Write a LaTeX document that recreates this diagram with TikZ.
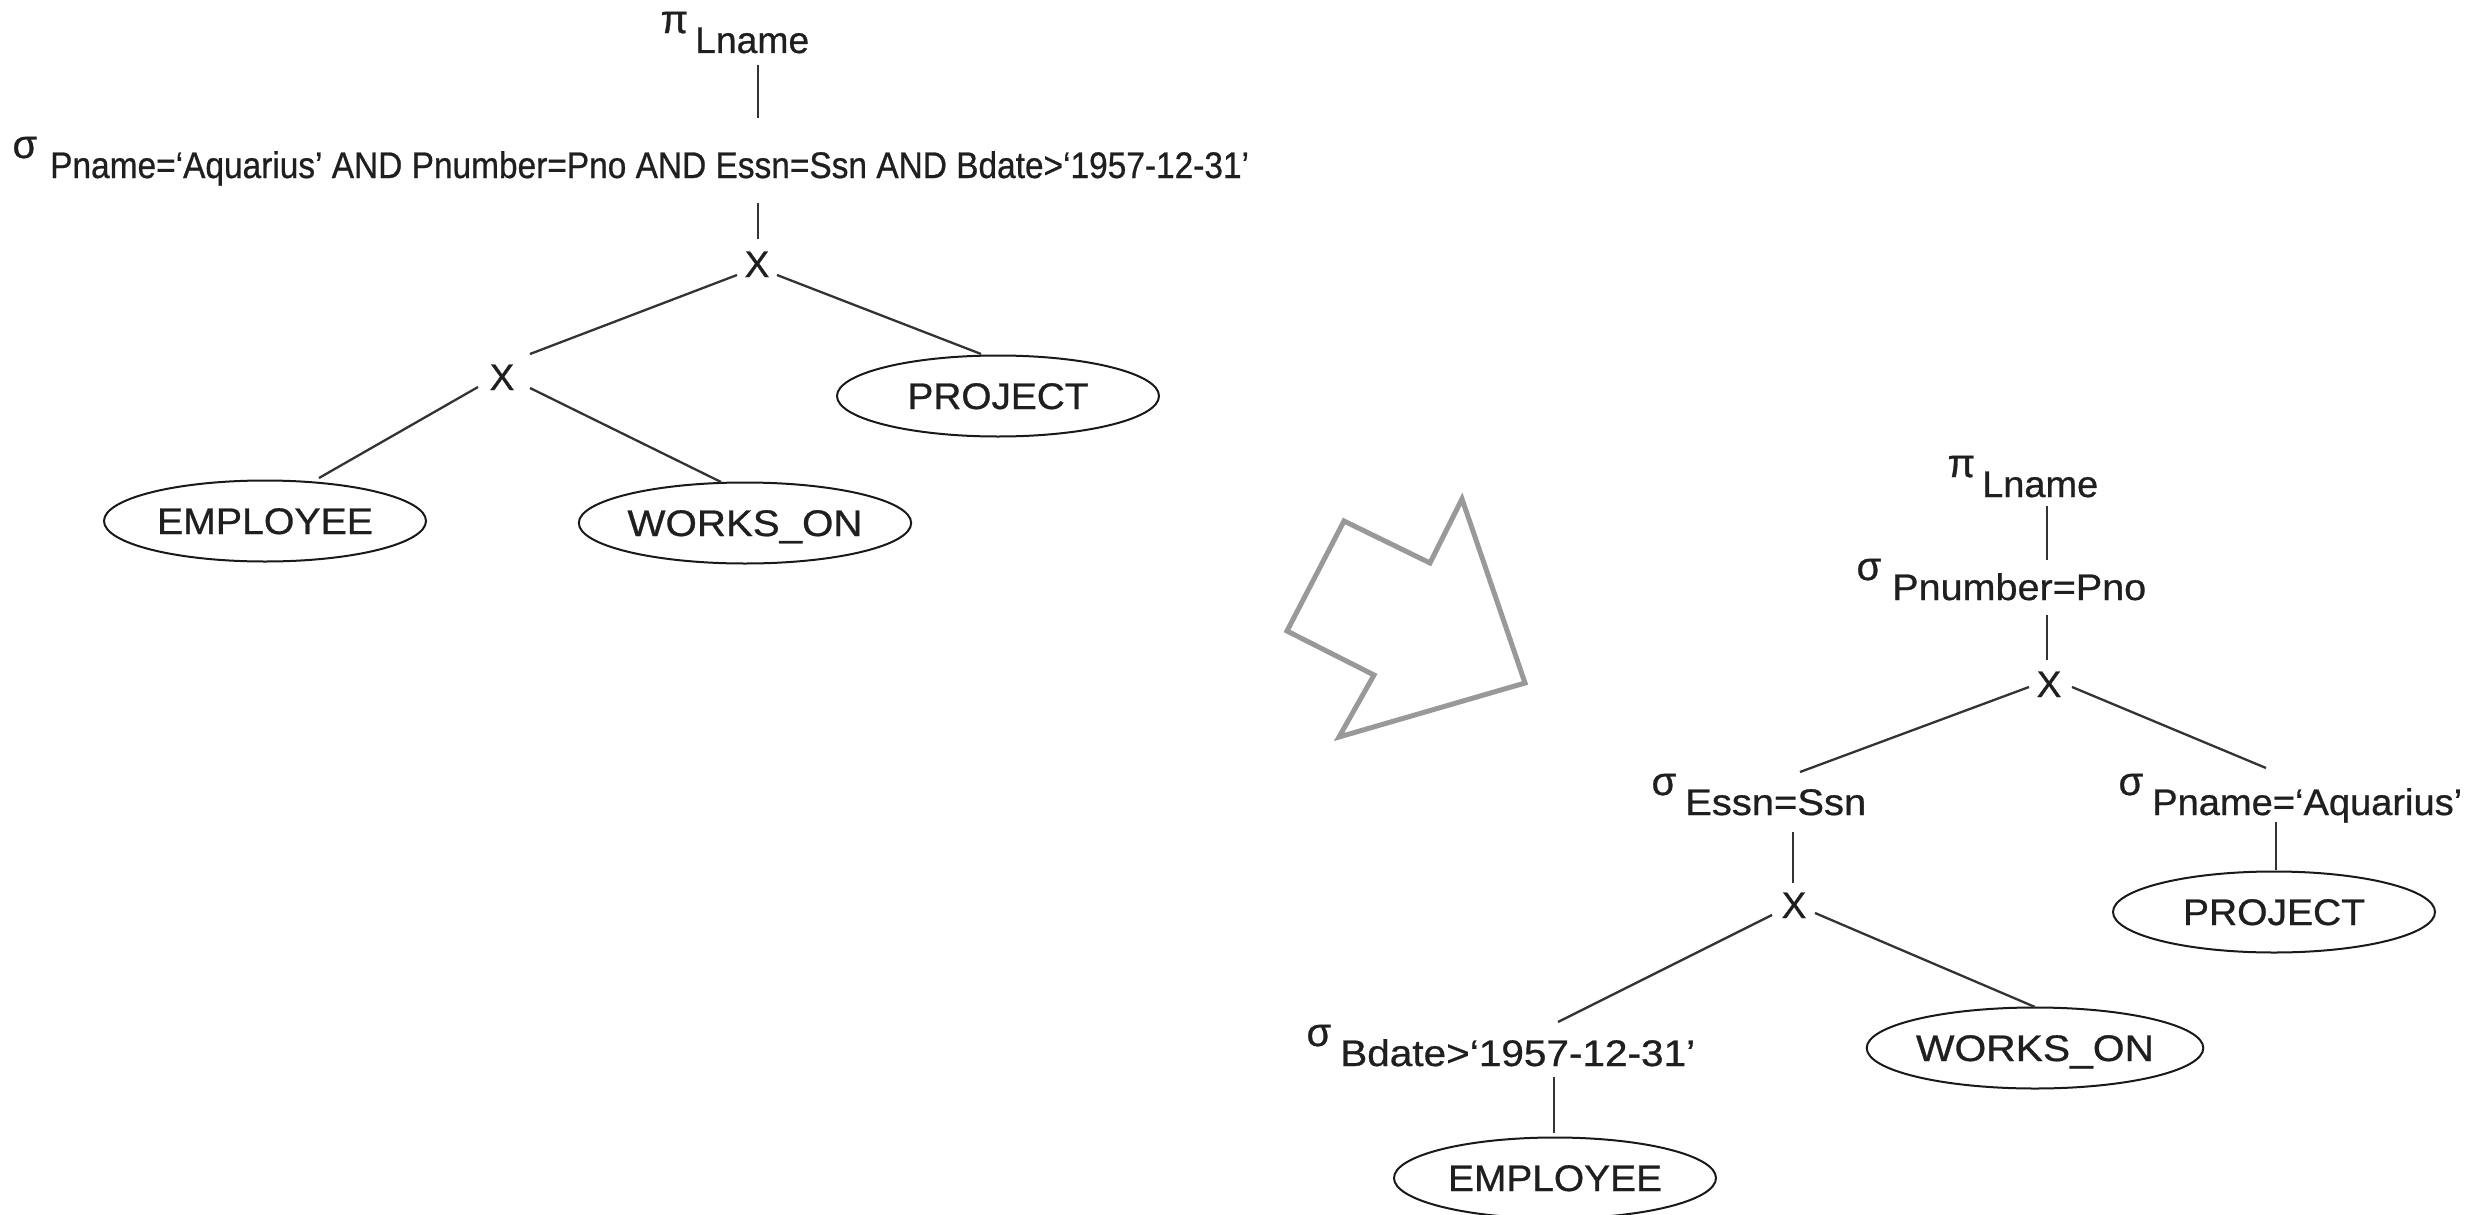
\documentclass[tikz,border=0pt]{standalone}
\usepackage{fontspec}
\usepackage{graphicx}
\setmainfont{Liberation Sans}[FakeBold=0.7]
\usetikzlibrary{calc,shapes.geometric}
\newcommand{\Gk}[2][11pt]{\llap{\raisebox{20pt}{\fontsize{40}{48}\selectfont #2}\kern#1}}
\newcommand{\Wd}[2]{\resizebox{#1}{\height}{#2}}
\begin{document}
\begin{tikzpicture}[x=1pt,y=-1pt,
  lbl/.style={font=\fontsize{37}{44}\selectfont, inner sep=0pt, anchor=base west, text=black!88},
  opx/.style={font=\fontsize{37}{44}\selectfont, inner sep=0pt, anchor=base, text=black!88},
  rel/.style={draw=black!90, line width=2pt, ellipse, minimum width=322pt, minimum height=81pt,
    inner sep=0pt, text height=26pt, text depth=0pt, font=\fontsize{37}{44}\selectfont, text=black!88},
  edge/.style={draw=black!80, line width=2.3pt},
  bigarrow/.style={draw=black!40, line width=5pt, line join=miter, fill=white}
]
\useasboundingbox[fill=white] (0,0) rectangle (2490,1215);

% ---------- left tree ----------
\node[lbl] (pi1) at (695,53) {\Gk[7pt]{π}\Wd{114pt}{Lname}};
\node[lbl] (sig1) at (50,178) {\Gk[13pt]{σ}\Wd{1199pt}{Pname=‘Aquarius’ AND Pnumber=Pno AND Essn=Ssn AND Bdate>‘1957-12-31’}};
\node[opx] (x1) at (757,277) {X};
\node[opx] (x2) at (502,390) {X};
\node[rel] (proj1) at (998,396) {\Wd{181pt}{PROJECT}};
\node[rel] (emp1) at (265,521) {\Wd{216pt}{EMPLOYEE}};
\node[rel] (wo1) at (745,523) {\Wd{235pt}{WORKS\_ON}};

\draw[edge] ($(x1|-pi1.base)+(1,12)$) -- ($(x1|-sig1.base)+(1,-60)$);
\draw[edge] ($(x1|-sig1.base)+(1,25)$) -- ($(x1.base)+(1,-38)$);
\draw[edge] ($(x1.base)+(-20,-2)$) -- ($(x2.base)+(28,-36)$);
\draw[edge] ($(x1.base)+(20,-2)$) -- ($(proj1.center)+(-17,-42)$);
\draw[edge] ($(x2.base)+(-24,-3)$) -- ($(emp1.center)+(54,-43)$);
\draw[edge] ($(x2.base)+(28,-2)$) -- ($(wo1.center)+(-24,-41)$);

% ---------- transformation arrow ----------
\draw[bigarrow] (1344,521) -- (1430,563) -- (1462,499) -- (1525,683) -- (1339,737) -- (1374,675) -- (1287,631) -- cycle;

% ---------- right tree ----------
\node[lbl] (pi2) at (1982,497) {\Gk[7pt]{π}\Wd{116pt}{Lname}};
\node[lbl] (sig2) at (1892,600) {\Gk{σ}\Wd{254pt}{Pnumber=Pno}};
\node[opx] (x3) at (2049,697) {X};
\node[lbl] (sig3) at (1685,815) {\Gk[9pt]{σ}\Wd{181pt}{Essn=Ssn}};
\node[lbl] (sig4) at (2152,815) {\Gk[9pt]{σ}\Wd{310pt}{Pname=‘Aquarius’}};
\node[opx] (x4) at (1794,918) {X};
\node[rel] (proj2) at (2274,912) {\Wd{182pt}{PROJECT}};
\node[lbl] (sig5) at (1340,1066) {\Gk[9pt]{σ}\Wd{355pt}{Bdate>‘1957-12-31’}};
\node[rel] (wo2) at (2035,1048) {\Wd{238pt}{WORKS\_ON}};
\node[rel] (emp2) at (1555,1178) {\Wd{214pt}{EMPLOYEE}};

\draw[edge] ($(x3|-pi2.base)+(-2,9)$) -- ($(x3|-sig2.base)+(-2,-40)$);
\draw[edge] ($(x3|-sig2.base)+(-2,15)$) -- ($(x3.base)+(-2,-37)$);
\draw[edge] ($(x3.base)+(-20,-10)$) -- ($(x4|-sig3.base)+(6,-43)$);
\draw[edge] ($(x3.base)+(23,-10)$) -- ($(proj2|-sig4.base)+(-8,-47)$);
\draw[edge] ($(x4|-sig3.base)+(-1,17)$) -- ($(x4.base)+(-1,-35)$);
\draw[edge] ($(proj2|-sig4.base)+(2,7)$) -- ($(proj2.center)+(2,-42)$);
\draw[edge] ($(x4.base)+(-22,-3)$) -- ($(emp2|-sig5.base)+(3,-44)$);
\draw[edge] ($(x4.base)+(21,-5)$) -- ($(wo2.center)+(0,-41)$);
\draw[edge] ($(emp2|-sig5.base)+(-1,11)$) -- ($(emp2.center)+(-1,-45)$);
\end{tikzpicture}
\end{document}
